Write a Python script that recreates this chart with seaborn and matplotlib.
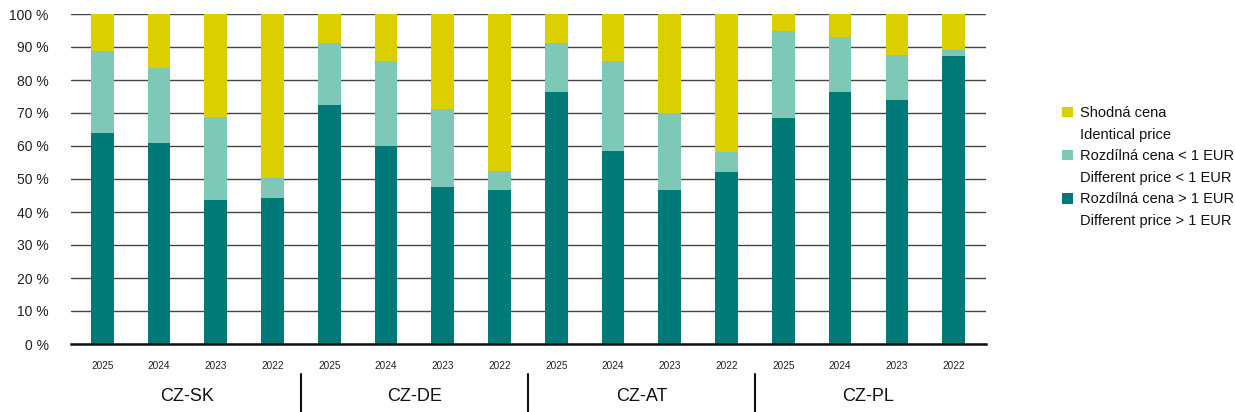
import numpy as np
import pandas as pd
import matplotlib
matplotlib.use("Agg")
import matplotlib.pyplot as plt
from matplotlib.patches import Patch
import matplotlib.transforms as mtransforms
import seaborn as sns

# Border crossings and survey years
groups = ["CZ-SK", "CZ-DE", "CZ-AT", "CZ-PL"]
years = ["2025", "2024", "2023", "2022"]

# Share of products (%) per border pair, years in the order above
diff_over_1 = {
    "CZ-SK": [64.0, 60.9, 43.6, 44.3],
    "CZ-DE": [72.5, 59.9, 47.7, 46.6],
    "CZ-AT": [76.4, 58.6, 46.6, 52.2],
    "CZ-PL": [68.6, 76.4, 73.9, 87.3],
}
diff_under_1 = {
    "CZ-SK": [24.7, 22.6, 25.3, 6.1],
    "CZ-DE": [18.7, 25.8, 23.4, 5.7],
    "CZ-AT": [14.7, 27.3, 23.4, 6.1],
    "CZ-PL": [26.1, 16.5, 13.6, 1.9],
}
identical = {
    "CZ-SK": [11.3, 16.5, 31.1, 49.6],
    "CZ-DE": [8.8, 14.3, 28.9, 47.7],
    "CZ-AT": [8.9, 14.1, 30.0, 41.7],
    "CZ-PL": [5.3, 7.1, 12.5, 10.8],
}

legend_cz = ["Shodná cena", "Rozdílná cena < 1 EUR", "Rozdílná cena > 1 EUR"]
legend_en = ["Identical price", "Different price < 1 EUR", "Different price > 1 EUR"]

c_dark = "#007A78"
c_light = "#7DC8B6"
c_yellow = "#DCCF00"

rows = []
for g in groups:
    for i, y in enumerate(years):
        rows.append({
            "group": g,
            "year": y,
            "dark": diff_over_1[g][i],
            "light": diff_under_1[g][i],
            "ident": identical[g][i],
        })
df = pd.DataFrame(rows)
df["pos"] = np.arange(len(df))
df["top_light"] = df["dark"] + df["light"]
df["top_all"] = df["top_light"] + df["ident"]

sns.set_theme(style="white")
plt.rcParams["font.family"] = ["Liberation Sans", "DejaVu Sans"]

fig = plt.figure(figsize=(12.35, 4.12), dpi=100)
ax = fig.add_axes([71 / 1235, 1 - 344 / 412, (986 - 71) / 1235, 330 / 412])

bar_kw = dict(x="pos", width=0.4, errorbar=None, saturation=1, linewidth=0, ax=ax, zorder=3)
sns.barplot(data=df, y="top_all", color=c_yellow, **bar_kw)
sns.barplot(data=df, y="top_light", color=c_light, **bar_kw)
sns.barplot(data=df, y="dark", color=c_dark, **bar_kw)

ax.set_xlim(-0.55, len(df) - 0.43)
ax.set_ylim(0, 100)
ax.set_yticks(np.arange(0, 101, 10))
ax.set_yticklabels([f"{v} %" for v in range(0, 101, 10)], fontsize=10, color="#222222")
ax.set_xticks(df["pos"])
ax.set_xticklabels(df["year"], fontsize=7.2, color="#222222")
ax.set_xlabel("")
ax.set_ylabel("")
ax.tick_params(axis="y", length=0, pad=16)
ax.tick_params(axis="x", length=0, pad=12)

ax.yaxis.grid(True, color="#444444", linewidth=1.0, zorder=0)
ax.set_axisbelow(True)
for side in ["left", "right", "top"]:
    ax.spines[side].set_visible(False)
ax.spines["bottom"].set_color("#111111")
ax.spines["bottom"].set_linewidth(1.8)
ax.spines["bottom"].set_zorder(4)

# Group labels and separators under the year ticks
trans = mtransforms.blended_transform_factory(ax.transData, ax.transAxes)
n_per = len(years)
for k, g in enumerate(groups):
    center = k * n_per + (n_per - 1) / 2
    ax.text(center, -0.158, g, transform=trans, ha="center", va="center",
            fontsize=13, color="#111111")
    if k > 0:
        xb = k * n_per - 0.5
        ax.plot([xb, xb], [-0.091, -0.21], transform=trans, color="#111111",
                linewidth=1.5, clip_on=False)

# Bilingual legend: coloured square on the Czech line, English line below
blank = Patch(facecolor="none", edgecolor="none")
handles, labels = [], []
for col, cz, en in zip([c_yellow, c_light, c_dark], legend_cz, legend_en):
    handles += [Patch(facecolor=col, edgecolor="none"), blank]
    labels += [cz, en]
fig.legend(handles, labels, loc="upper left",
           bbox_to_anchor=(1062 / 1235, 1 - 106 / 412),
           frameon=False, fontsize=10.5, handlelength=0.75, handleheight=0.75,
           handletextpad=0.45, labelspacing=0.52, borderpad=0, borderaxespad=0,
           labelcolor="#111111")

fig.savefig("out.png", dpi=100)
